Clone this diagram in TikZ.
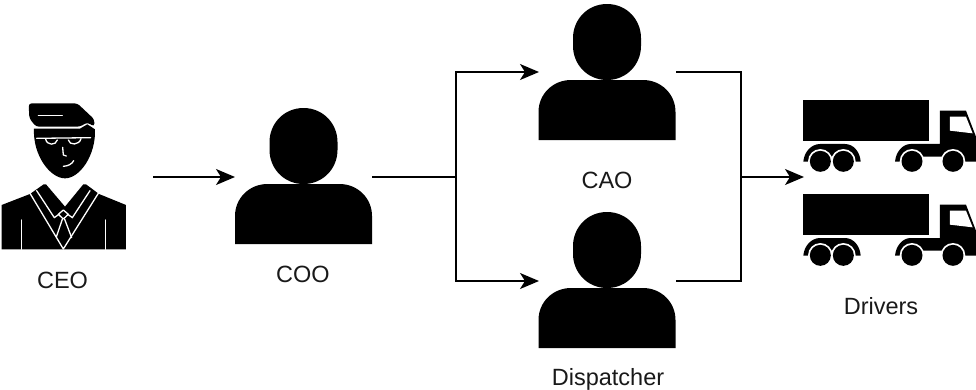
\documentclass[tikz,border=0pt]{standalone}
\usepackage{fontspec}
\setmainfont{Liberation Sans}
\usetikzlibrary{arrows.meta}
\tikzset{
  iconbox/.style={inner sep=0pt,outer sep=0pt,minimum width=#1},
  link/.style={line width=1.5pt,black},
  arrowlink/.style={link,-{Stealth[length=19pt,width=16pt,inset=5pt]}},
  caption/.style={font=\fontsize{23.5}{26}\selectfont,text=black!90,inner sep=0pt,anchor=base},
  whiteline/.style={draw=white,line width=1.3pt,line cap=round,line join=round}
}
\newcommand{\personicon}[2]{%
  \begin{scope}[shift={(#1,#2)}]
    \fill (0,-68) .. controls (20,-68) and (34,-52) .. (34,-34)
      -- (34,-26) .. controls (34,-8) and (20,8) .. (0,8)
      .. controls (-20,8) and (-34,-8) .. (-34,-26)
      -- (-34,-34) .. controls (-34,-52) and (-20,-68) .. (0,-68) -- cycle;
    \fill (-68.5,68) -- (-68.5,40) .. controls (-68.5,22) and (-54,8) .. (-36,8)
      -- (36,8) .. controls (54,8) and (68.5,22) .. (68.5,40) -- (68.5,68) -- cycle;
  \end{scope}}
\newcommand{\truckicon}[1]{%
  \begin{scope}[shift={(790,#1)},x=0.3333pt,y=-0.3333pt]
    \fill (39,31) rectangle (417,152);
    \fill (450,62) -- (528,62) -- (558,140) -- (558,215) -- (523,215) -- (489,214) -- (455,200)
      -- (400,200) -- (366,214) -- (315,215)
      .. controls (318,185) and (338,162) .. (362,162) -- (450,162) -- cycle;
    \fill (40,215) .. controls (42,185) and (65,162) .. (90,162) -- (165,162)
      .. controls (190,162) and (210,185) .. (212,215) -- cycle;
    \fill[white] (91,214) circle[radius=12.3pt] (160,214) circle[radius=12.3pt]
      (366,214) circle[radius=12.3pt] (489,214) circle[radius=12.3pt];
    \fill (91,214) circle[radius=10.5pt] (160,214) circle[radius=10.5pt]
      (366,214) circle[radius=10.5pt] (489,214) circle[radius=10.5pt];
    \fill[white] (480,80) -- (528,80) -- (548,130) -- (480,122) -- cycle;
  \end{scope}}
\begin{document}
\begin{tikzpicture}[x=1pt,y=-1pt]
\useasboundingbox (0,0) rectangle (976,389);
% CEO icon
\begin{scope}[shift={(0,90)},x=0.3333pt,y=-0.3333pt]
  \fill[rounded corners=3pt] (86,40) -- (232,40) -- (283,88) -- (283,110) -- (262,97) -- (240,110)
    -- (108,110) -- (88,85) -- cycle;
  \draw[whiteline] (115,77) -- (187,77);
  \fill (102,116) -- (240,116) -- (262,103) -- (285,118)
    .. controls (288,195) and (240,265) .. (195,265)
    .. controls (150,265) and (98,195) .. (102,116) -- cycle;
  \draw[whiteline] (110,145) -- (272,143);
  \draw[whiteline] (137,147) .. controls (140,167) and (168,167) .. (172,150);
  \draw[whiteline] (205,150) .. controls (208,167) and (238,166) .. (243,146);
  \draw[whiteline] (188,172) -- (190,195) -- (199,198);
  \draw[whiteline] (190,229) .. controls (205,228) and (216,222) .. (221,212);
  \fill (5,345) -- (90,312) -- (131,283) -- (138,283) -- (195,350) -- (250,283) -- (258,283)
    -- (297,312) -- (378,345) -- (378,478) -- (5,478) -- cycle;
  \draw[whiteline] (90,310) -- (190,477) -- (295,310);
  \draw[whiteline] (110,302) -- (163,383) -- (178,372) (202,372) -- (217,383) -- (270,302);
  \draw[whiteline] (175,373) -- (190,360) -- (205,373) -- (190,387) -- cycle;
  \draw[whiteline] (187,388) -- (169,441) (194,388) -- (215,443);
  \draw[whiteline] (65,390) -- (65,478) (316,390) -- (316,478);
\end{scope}
\personicon{303.5}{176}
\personicon{607}{72}
\personicon{607}{280}
\truckicon{90}
\truckicon{184}
% anchors for the icons
\node[iconbox=137pt,minimum height=136pt] (coo) at (303.5,177) {};
\node[iconbox=137pt,minimum height=136pt] (cao) at (607.5,72) {};
\node[iconbox=137pt,minimum height=136pt] (disp) at (607.5,281) {};
\node[iconbox=172pt,minimum height=166pt] (drivers) at (890,177) {};
\node[iconbox=152pt,minimum height=176pt] (ceo) at (77,177) {};
\coordinate (split) at (456,177);
\coordinate (merge) at (741,177);
% captions
\node[caption] (ceolabel) at (62.5,288) {CEO};
\node[caption] (coolabel) at (303,282) {COO};
\node[caption] (caolabel) at (607,188) {CAO};
\node[caption] (displabel) at (608,385) {Dispatcher};
\node[caption] (drvlabel) at (881,314) {Drivers};
% connectors
\draw[arrowlink] (ceo.east) -- (coo.west);
\draw[link] (coo.east) -- (split);
\draw[arrowlink] (split) |- (cao.west);
\draw[arrowlink] (split) |- (disp.west);
\draw[link] (cao.east) -| (merge);
\draw[link] (disp.east) -| (merge);
\draw[arrowlink] (merge) -- (drivers.west);
\end{tikzpicture}
\end{document}
